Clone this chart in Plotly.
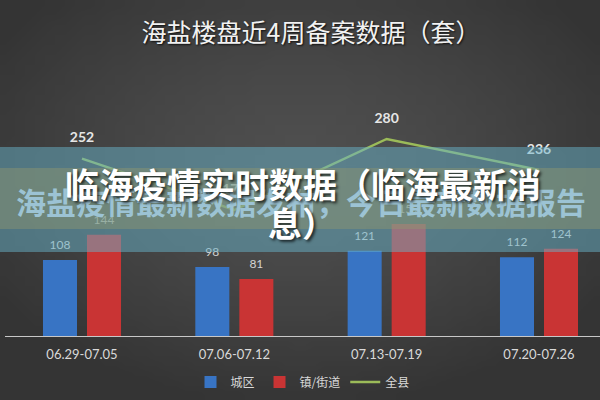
import zlib, struct, base64
import plotly.graph_objects as go

# ---- data ----
categories = ["06.29-07.05", "07.06-07.12", "07.13-07.19", "07.20-07.26"]
city = [108, 98, 121, 112]          # 城区
town = [144, 81, 159, 124]          # 镇/街道
county = [252, 179, 280, 236]       # 全县
series_names = ["城区", "镇/街道", "全县"]

title_text = "海盐楼盘近4周备案数据（套）"
overlay_line1 = "临海疫情实时数据（临海最新消"
overlay_line2 = "息）"
overlay_sub = "海盐疫情最新数据发布，今日最新数据报告"

# ---- layout constants ----
W, H = 600, 400
ML, MR, MT, MB = 5, 0, 55, 64
BARGAP, GROUPGAP = 0.422, 0.227
slot = (1 - BARGAP) / 2
off = slot / 2
xs = list(range(len(categories)))

LABEL_FONT = "Lato, 'Open Sans', sans-serif"
CJK = "'Noto Sans CJK SC', sans-serif"


def png_data_uri(w, h):
    rows = []
    for j in range(h):
        row = bytearray()
        for i in range(w):
            dx = (i / (w - 1) - 0.5) / 0.62
            dy = (j / (h - 1) - 0.42) / 0.62
            d = min(1.0, (dx * dx + dy * dy) ** 0.5)
            v = int(80 - (80 - 52) * d ** 1.4)
            row += bytes((v, v, v))
        rows.append(b"\x00" + bytes(row))
    raw = b"".join(rows)

    def chunk(t, data):
        return (struct.pack(">I", len(data)) + t + data +
                struct.pack(">I", zlib.crc32(t + data) & 0xFFFFFFFF))

    png = (b"\x89PNG\r\n\x1a\n" +
           chunk(b"IHDR", struct.pack(">IIBBBBB", w, h, 8, 2, 0, 0, 0)) +
           chunk(b"IDAT", zlib.compress(raw)) + chunk(b"IEND", b""))
    return "data:image/png;base64," + base64.b64encode(png).decode()


pw = W - ML - MR
ph = H - MT - MB


def py(ypx):
    return (H - MB - ypx) / ph


fig = go.Figure()
fig.add_trace(go.Bar(x=xs, y=city, name=series_names[0],
                     marker=dict(color="#3874c4", line=dict(width=0))))
fig.add_trace(go.Bar(x=xs, y=town, name=series_names[1],
                     marker=dict(color="#c93434", line=dict(width=0))))
fig.add_trace(go.Scatter(x=xs, y=county, name=series_names[2],
                         mode="lines+markers+text",
                         line=dict(color="#9bbb59", width=2.5),
                         marker=dict(size=19, color="rgba(0,0,0,0)"),
                         text=[str(v) for v in county], textposition="top center",
                         textfont=dict(family=LABEL_FONT, size=14, color="#e6e6e6", weight="bold"),
                         cliponaxis=False))
# bar value labels
fig.add_trace(go.Scatter(x=[x - off for x in xs], y=city, mode="markers+text",
                         marker=dict(size=11, color="rgba(0,0,0,0)"),
                         text=[str(v) for v in city], textposition="top center",
                         textfont=dict(family=LABEL_FONT, size=12, color="#d4d4d4"),
                         showlegend=False, hoverinfo="skip", cliponaxis=False))
fig.add_trace(go.Scatter(x=[x + off for x in xs], y=town, mode="markers+text",
                         marker=dict(size=11, color="rgba(0,0,0,0)"),
                         text=[str(v) for v in town], textposition="top center",
                         textfont=dict(family=LABEL_FONT, size=12, color="#d4d4d4"),
                         showlegend=False, hoverinfo="skip", cliponaxis=False))

x0p = -ML / pw
fig.update_layout(
    width=W, height=H,
    margin=dict(l=ML, r=MR, t=MT, b=MB),
    paper_bgcolor="#444444",
    plot_bgcolor="rgba(0,0,0,0)",
    barmode="group", bargap=BARGAP, bargroupgap=GROUPGAP,
    title=dict(text=title_text, x=311 / W, xanchor="center", y=1 - 33 / H, yanchor="middle",
               font=dict(family=CJK, size=25, color="#f2f2f2",
                         shadow="1px 1px 2px rgba(0,0,0,0.8)")),
    xaxis=dict(range=[-0.5055, 3.4005], tickvals=xs, ticktext=categories,
               showgrid=False, zeroline=False, showline=True, linecolor="#c8c8c8",
               linewidth=1, ticks="", ticklabelstandoff=6,
               tickfont=dict(family=LABEL_FONT, size=13, color="#d9d9d9")),
    yaxis=dict(range=[0, 399.3], visible=False),
    legend=dict(orientation="h", x=0.5, xanchor="center", y=py(382), yanchor="middle",
                font=dict(family=CJK, size=12, color="#d9d9d9"),
                itemwidth=30, bgcolor="rgba(0,0,0,0)", traceorder="normal"),
    images=[dict(source=png_data_uri(60, 40), xref="paper", yref="paper",
                 x=x0p, y=1 + MT / ph, sizex=1 - x0p, sizey=H / ph,
                 xanchor="left", yanchor="top", sizing="stretch", layer="below")],
    shapes=[
        dict(type="rect", xref="paper", yref="paper", x0=x0p, x1=1, y0=py(252), y1=py(147),
             fillcolor="rgba(103,177,200,0.5)", line=dict(width=0), layer="above"),
        dict(type="rect", xref="paper", yref="paper", x0=x0p, x1=1, y0=py(229), y1=py(168),
             fillcolor="rgba(145,150,110,0.45)", line=dict(width=0), layer="above"),
    ],
    annotations=[
        dict(text=overlay_sub, xref="paper", yref="paper", x=(301 - ML) / pw, y=py(201),
             showarrow=False, xanchor="center", yanchor="middle",
             font=dict(family=CJK, size=30, color="#9cc3d4", weight="bold")),
        dict(text=overlay_line1, xref="paper", yref="paper", x=(303 - ML) / pw, y=py(183),
             showarrow=False, xanchor="center", yanchor="middle",
             font=dict(family=CJK, size=34, color="#ffffff", weight="bold",
                       shadow="2px 2px 3px rgba(0,0,0,0.7)")),
        dict(text=overlay_line2, xref="paper", yref="paper", x=(302 - ML) / pw, y=py(222),
             showarrow=False, xanchor="center", yanchor="middle",
             font=dict(family=CJK, size=34, color="#ffffff", weight="bold",
                       shadow="2px 2px 3px rgba(0,0,0,0.7)")),
    ],
)

fig.write_html("out.html", config={"displayModeBar": False},
               post_script="document.body.style.margin='0';document.body.style.overflow='hidden';")
